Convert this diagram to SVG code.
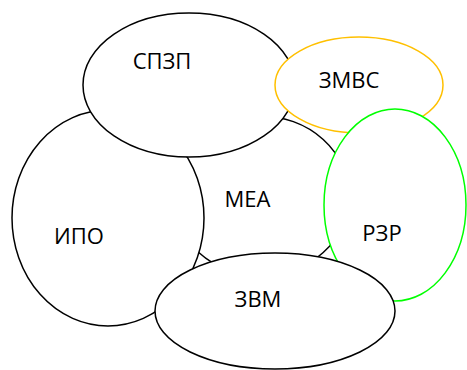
<svg xmlns="http://www.w3.org/2000/svg" width="467" height="370" viewBox="0 0 467 370">
<style>
.n{fill:#fff;stroke:#000;stroke-width:1.5}
.t{font-family:"Open Sans","Liberation Sans",sans-serif;font-size:22px;fill:#000;text-anchor:middle}
</style>
<rect width="467" height="370" fill="#fff"/>
<g id="connectors"/>
<g id="MEA"><ellipse class="n" cx="261" cy="196" rx="88" ry="80"/><text class="t" x="247.5" y="207">МЕА</text></g>
<g id="IPO"><ellipse class="n" cx="108" cy="218" rx="96" ry="108"/><text class="t" x="79" y="244">ИПО</text></g>
<g id="SPZP"><ellipse class="n" cx="189" cy="85" rx="106" ry="72"/><text class="t" x="162" y="69">СПЗП</text></g>
<g id="ZMVS"><ellipse class="n" cx="359" cy="85" rx="84" ry="48" style="stroke:#ffc000"/><text class="t" x="349" y="88">ЗМВС</text></g>
<g id="RZR"><ellipse class="n" cx="395" cy="205" rx="71" ry="96" style="stroke:#00ff00"/><text class="t" x="382" y="241">РЗР</text></g>
<g id="ZVM"><ellipse class="n" cx="275" cy="311" rx="120" ry="58"/><text class="t" x="258" y="307">ЗВМ</text></g>
</svg>
